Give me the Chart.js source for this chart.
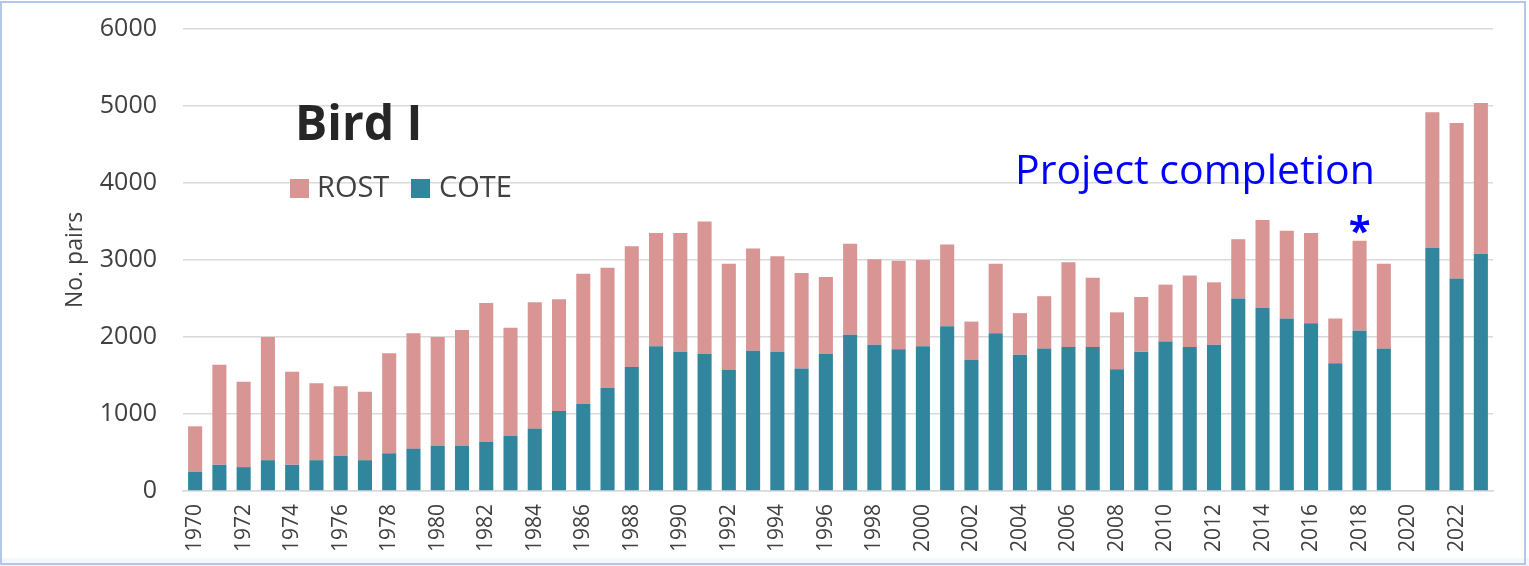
<!DOCTYPE html>
<html>
<head>
<meta charset="utf-8">
<script src="https://cdn.jsdelivr.net/npm/chart.js@4.4.0/dist/chart.umd.min.js"></script>
<style>
  html, body { margin: 0; padding: 0; background: #fff; }
  canvas { display: block; }
</style>
</head>
<body>
<canvas id="chart" width="1529" height="566"></canvas>
<script>
const years = [
  "1970", "1971", "1972", "1973", "1974", "1975", "1976", "1977", "1978", "1979",
  "1980", "1981", "1982", "1983", "1984", "1985", "1986", "1987", "1988", "1989",
  "1990", "1991", "1992", "1993", "1994", "1995", "1996", "1997", "1998", "1999",
  "2000", "2001", "2002", "2003", "2004", "2005", "2006", "2007", "2008", "2009",
  "2010", "2011", "2012", "2013", "2014", "2015", "2016", "2017", "2018", "2019",
  "2020", "2021", "2022", "2023"
];

// common tern pairs (bottom of stack)
const cote = [
  250, 340, 310, 400, 340, 400, 460, 400, 490, 550,
  590, 590, 640, 720, 810, 1040, 1130, 1340, 1610, 1880,
  1810, 1780, 1570, 1820, 1810, 1590, 1780, 2030, 1900, 1840,
  1880, 2140, 1700, 2050, 1770, 1850, 1870, 1870, 1580, 1810,
  1940, 1870, 1900, 2500, 2380, 2240, 2180, 1660, 2080, 1850,
  null, 3160, 2760, 3080
];

// roseate tern pairs (top of stack)
const rost = [
  590, 1300, 1110, 1600, 1210, 1000, 900, 890, 1300, 1500,
  1410, 1500, 1800, 1400, 1640, 1450, 1690, 1560, 1570, 1470,
  1540, 1720, 1380, 1330, 1240, 1240, 1000, 1180, 1110, 1150,
  1120, 1060, 500, 900, 540, 680, 1100, 900, 740, 710,
  740, 930, 810, 770, 1140, 1140, 1170, 580, 1170, 1100,
  null, 1760, 2020, 1960
];

const yTicks = [0, 1000, 2000, 3000, 4000, 5000, 6000];

const chartTitle = "Bird I";
const noteText = "Project completion";
const noteYear = "2018";

const FONT = "'Open Sans', 'DejaVu Sans', sans-serif";
const ROST_COLOR = "#d99594";
const COTE_COLOR = "#31859c";
const TEXT_COLOR = "#404040";

const decorations = {
  id: "decorations",
  beforeDraw(chart) {
    const ctx = chart.ctx;
    ctx.save();
    ctx.fillStyle = "#ffffff";
    ctx.fillRect(0, 0, chart.width, chart.height);
    ctx.fillStyle = "#f3f8fd";
    ctx.fillRect(0, 558, chart.width, chart.height - 558);
    ctx.strokeStyle = "#b4c7e7";
    ctx.lineWidth = 2;
    ctx.strokeRect(1, 2, chart.width - 5, chart.height - 4);
    ctx.restore();
  },
  afterDraw(chart) {
    const ctx = chart.ctx;
    const x = chart.scales.x;
    const y = chart.scales.y;
    ctx.save();

    // title
    ctx.fillStyle = "#262626";
    ctx.font = "bold 48px " + FONT;
    ctx.textBaseline = "middle";
    ctx.textAlign = "left";
    ctx.fillText(chartTitle, 295, 126);

    // legend: ROST first, then COTE
    ctx.font = "29px " + FONT;
    ctx.fillStyle = ROST_COLOR;
    ctx.fillRect(290, 179, 19, 19);
    ctx.fillStyle = TEXT_COLOR;
    ctx.fillText("ROST", 317, 189);
    ctx.fillStyle = COTE_COLOR;
    ctx.fillRect(411, 179, 19, 19);
    ctx.fillStyle = TEXT_COLOR;
    ctx.fillText("COTE", 439, 189);

    // note
    ctx.fillStyle = "#0000ff";
    let size = 38;
    ctx.font = size + "px " + FONT;
    const w = ctx.measureText(noteText).width;
    size = Math.round(size * 358 / w);
    ctx.font = size + "px " + FONT;
    ctx.textBaseline = "alphabetic";
    ctx.fillText(noteText, 1015, 184);

    // asterisk over the marked year
    const i = years.indexOf(noteYear);
    const top = y.getPixelForValue(cote[i] + rost[i]);
    ctx.font = "bold 40px " + FONT;
    ctx.textAlign = "center";
    ctx.fillText("*", x.getPixelForValue(i), top + 4);

    ctx.restore();
  }
};

new Chart(document.getElementById("chart"), {
  type: "bar",
  data: {
    labels: years,
    datasets: [
      { label: "COTE", data: cote, backgroundColor: COTE_COLOR, stack: "s" },
      { label: "ROST", data: rost, backgroundColor: ROST_COLOR, stack: "s" }
    ]
  },
  options: {
    responsive: false,
    devicePixelRatio: 1,
    animation: false,
    layout: { padding: { top: 29, right: 36, left: 0, bottom: 0 } },
    categoryPercentage: 1,
    barPercentage: 0.58,
    plugins: {
      legend: { display: false },
      tooltip: { enabled: false }
    },
    scales: {
      x: {
        stacked: true,
        offset: true,
        grid: { display: false, drawTicks: false, tickLength: 0 },
        border: { display: true, color: "#d9d9d9", width: 1.5 },
        ticks: {
          autoSkip: false,
          minRotation: 90,
          maxRotation: 90,
          padding: 13,
          color: TEXT_COLOR,
          font: { family: FONT, size: 21 },
          callback: (v, i) => (i % 2 === 0 ? years[i] : "")
        },
        afterFit: (scale) => {
          scale.height = 75;
          scale.paddingLeft = 0;
          scale.paddingRight = 0;
        }
      },
      y: {
        stacked: true,
        min: 0,
        max: 6000,
        afterBuildTicks: (scale) => { scale.ticks = yTicks.map((v) => ({ value: v })); },
        grid: { color: "#d9d9d9", lineWidth: 1.5, drawTicks: false, tickLength: 0 },
        border: { display: false },
        ticks: {
          padding: 26,
          color: TEXT_COLOR,
          font: { family: FONT, size: 25 },
          callback: (v) => String(v)
        },
        title: {
          display: true,
          text: "No. pairs",
          color: TEXT_COLOR,
          font: { family: FONT, size: 23 },
          padding: { top: 62, bottom: 0 }
        },
        afterFit: (scale) => {
          scale.width = 183;
          scale.paddingTop = 0;
          scale.paddingBottom = 0;
        }
      }
    }
  },
  plugins: [decorations]
});
</script>
</body>
</html>
